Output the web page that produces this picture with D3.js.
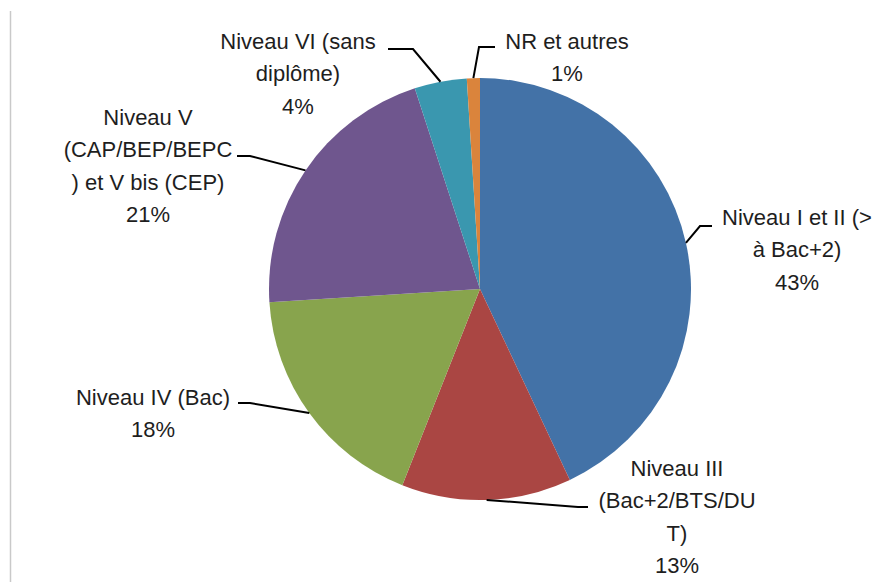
<!DOCTYPE html>
<html>
<head>
<meta charset="utf-8">
<script src="https://cdn.jsdelivr.net/npm/d3@7"></script>
<style>
  html, body { margin: 0; padding: 0; background: #fff; }
  svg { display: block; }
  text { font-family: "Liberation Sans", Arial, sans-serif; font-size: 22px; fill: #1e1e1e; }
</style>
</head>
<body>
<svg id="chart" width="877" height="582"></svg>
<script>
// ---- Data ----
const categories = [
  "Niveau I et II (> à Bac+2)",
  "Niveau III (Bac+2/BTS/DUT)",
  "Niveau IV (Bac)",
  "Niveau V (CAP/BEP/BEPC) et V bis (CEP)",
  "Niveau VI (sans diplôme)",
  "NR et autres"
];
const values = [43, 13, 18, 21, 4, 1];
const percentLabels = ["43%", "13%", "18%", "21%", "4%", "1%"];
const labelLines = [
  ["Niveau I et II (>", "à Bac+2)"],
  ["Niveau III", "(Bac+2/BTS/DU", "T)"],
  ["Niveau IV (Bac)"],
  ["Niveau V", "(CAP/BEP/BEPC", ") et V bis (CEP)"],
  ["Niveau VI (sans", "diplôme)"],
  ["NR et autres"]
];
const colors = ["#4372A7", "#AA4643", "#88A44D", "#6F568E", "#3A97AF", "#DA843C"];

// ---- Layout (positions, not data) ----
const W = 877, H = 582;
const cx = 480, cy = 289, R = 211;
const lineH = 32.5;
// label block: center x, center y of first line; leader elbow & end
const layout = [
  { x: 797, y: 217, elbow: [700, 226], end: [712, 226] },
  { x: 677, y: 468, elbow: [578, 507], end: [588, 507] },
  { x: 153, y: 397, elbow: [250, 403], end: [238, 403] },
  { x: 148, y: 117, elbow: [250, 156], end: [237, 156] },
  { x: 298, y: 41,  elbow: [413, 49],  end: [388, 49] },
  { x: 567, y: 41,  elbow: [479, 47],  end: [495, 47] }
];

const svg = d3.select("#chart");

// left frame line
svg.append("line")
  .attr("x1", 10.5).attr("x2", 10.5).attr("y1", 11).attr("y2", H)
  .attr("stroke", "#c9c9c9").attr("stroke-width", 1.5);

const color = d3.scaleOrdinal().domain(categories).range(colors);

const pie = d3.pie().sort(null).value(d => d.value);
const data = categories.map((c, i) => ({ cat: c, value: values[i], i }));
const arcs = pie(data);
const arc = d3.arc().innerRadius(0).outerRadius(R);

const g = svg.append("g").attr("transform", `translate(${cx},${cy})`);
g.selectAll("path.slice").data(arcs).enter().append("path")
  .attr("class", "slice")
  .attr("d", arc)
  .attr("fill", d => color(d.data.cat));

// leader lines
arcs.forEach((a, i) => {
  const mid = (a.startAngle + a.endAngle) / 2;
  const sx = cx + R * Math.sin(mid);
  const sy = cy - R * Math.cos(mid);
  const L = layout[i];
  svg.append("polyline")
    .attr("points", [[sx, sy], L.elbow, L.end].map(p => p.join(",")).join(" "))
    .attr("fill", "none")
    .attr("stroke", "#000")
    .attr("stroke-width", 2);
});

// labels
arcs.forEach((a, i) => {
  const L = layout[i];
  const lines = labelLines[i].concat([percentLabels[i]]);
  const t = svg.append("text").attr("text-anchor", "middle");
  lines.forEach((ln, k) => {
    t.append("tspan")
      .attr("x", L.x)
      .attr("y", L.y + k * lineH)
      .attr("dy", "0.36em")
      .text(ln);
  });
});
</script>
</body>
</html>
